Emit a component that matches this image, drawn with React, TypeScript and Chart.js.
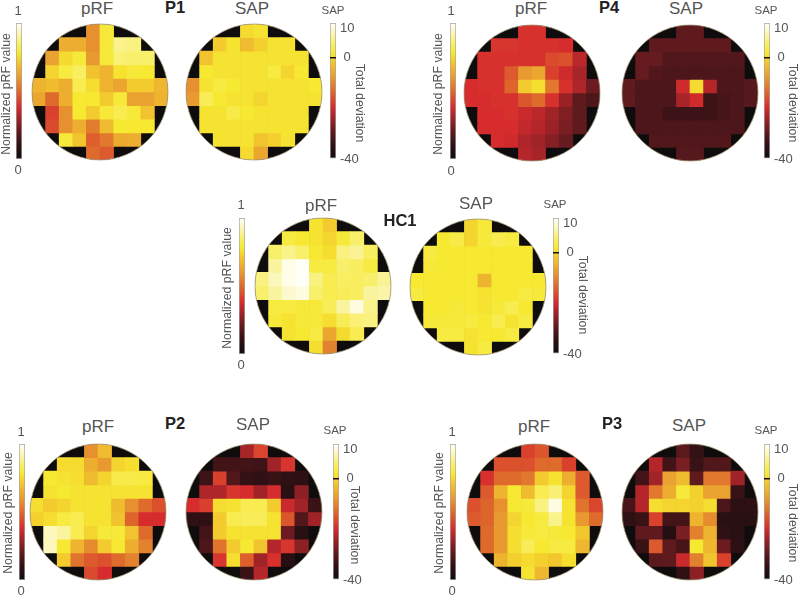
import React, { useEffect, useRef } from "react";
import { Chart, registerables } from "chart.js";

Chart.register(...registerables);

const _ = null;

const columns = ["0", "1", "2", "3", "4", "5", "6", "7", "8", "9"];

const p1Prf = [
  [_, _, _, _, .58, .79, _, _, _, _],
  [_, _, .65, .65, .58, .79, .88, .87, _, _],
  [_, .62, .75, .79, .6, .79, .86, .85, .85, _],
  [_, .74, .8, .84, .7, .66, .77, .79, .78, _],
  [.66, .68, .65, .82, .76, .66, .63, .72, .72, .67],
  [.63, .5, .65, .78, .78, .72, .79, .62, .62, .66],
  [_, .42, .58, .78, .72, .79, .82, .79, .7, _],
  [_, .44, .58, .65, .54, .68, .78, .78, .78, _],
  [_, _, .79, .7, .48, .53, .64, .65, _, _],
  [_, _, _, _, .5, .47, _, _, _, _],
];
const p1Sap = [
  [_, _, _, _, .75, .77, _, _, _, _],
  [_, _, .72, .77, .68, .73, .77, .77, _, _],
  [_, .7, .77, .77, .77, .77, .77, .77, .77, _],
  [_, .78, .77, .77, .77, .77, .8, .74, .78, _],
  [.58, .77, .8, .78, .77, .77, .77, .77, .77, .78],
  [.6, .83, .78, .77, .77, .74, .77, .77, .77, .77],
  [_, .77, .77, .81, .78, .77, .77, .77, .77, _],
  [_, .77, .77, .77, .77, .77, .77, .77, .77, _],
  [_, _, .77, .77, .77, .7, .73, .77, _, _],
  [_, _, _, _, .75, .63, _, _, _, _],
];
const p4Prf = [
  [_, _, _, _, .39, .39, _, _, _, _],
  [_, _, .4, .4, .39, .39, .39, .38, _, _],
  [_, .39, .39, .39, .39, .39, .44, .45, .34, _],
  [_, .39, .39, .47, .6, .63, .42, .37, .31, _],
  [.38, .39, .39, .49, .72, .76, .53, .39, .32, .22],
  [.38, .38, .39, .39, .46, .5, .39, .29, .2, .16],
  [_, .38, .38, .39, .36, .34, .3, .25, .2, _],
  [_, .38, .38, .38, .35, .33, .29, .24, .2, _],
  [_, _, .38, .37, .32, .3, .26, .21, _, _],
  [_, _, _, _, .33, .31, _, _, _, _],
];
const p4Sap = [
  [_, _, _, _, .2, .2, _, _, _, _],
  [_, _, .2, .2, .2, .2, .2, .2, _, _],
  [_, .21, .21, .17, .17, .17, .17, .17, .17, _],
  [_, .21, .17, .16, .16, .16, .16, .16, .16, _],
  [.2, .16, .16, .16, .37, .75, .33, .16, .16, .18],
  [.2, .16, .16, .16, .31, .37, .13, .15, .16, .18],
  [_, .16, .16, .13, .13, .13, .13, .15, .16, _],
  [_, .16, .16, .16, .16, .16, .16, .16, .16, _],
  [_, _, .17, .17, .17, .17, .17, .17, _, _],
  [_, _, _, _, .18, .18, _, _, _, _],
];
const hc1Prf = [
  [_, _, _, _, .77, .72, _, _, _, _],
  [_, _, .8, .78, .77, .74, .79, .85, _, _],
  [_, .85, .88, .85, .78, .76, .87, .89, .84, _],
  [_, .9, .98, 1, .8, .8, .85, .84, .8, _],
  [.87, .93, .98, 1, .87, .82, .84, .84, .85, .89],
  [.85, .9, .95, .97, .85, .82, .83, .84, .9, .91],
  [_, .8, .8, .79, .79, .83, .9, .97, .88, _],
  [_, .79, .77, .79, .79, .76, .83, .86, .87, _],
  [_, _, .77, .78, .8, .63, .75, .82, _, _],
  [_, _, _, _, .76, .55, _, _, _, _],
];
const hc1Sap = [
  [_, _, _, _, .74, .79, _, _, _, _],
  [_, _, .78, .81, .74, .79, .82, .8, _, _],
  [_, .8, .78, .78, .78, .78, .78, .78, .78, _],
  [_, .79, .78, .78, .78, .78, .78, .78, .78, _],
  [.78, .78, .78, .78, .78, .66, .78, .78, .78, .78],
  [.8, .78, .78, .78, .78, .77, .78, .78, .8, .79],
  [_, .78, .78, .79, .78, .77, .79, .82, .78, _],
  [_, .79, .79, .79, .8, .78, .82, .77, .8, _],
  [_, _, .8, .8, .77, .78, .78, .8, _, _],
  [_, _, _, _, .77, .8, _, _, _, _],
];
const p2Prf = [
  [_, _, _, _, .58, .68, _, _, _, _],
  [_, _, .75, .75, .65, .6, .74, .76, _, _],
  [_, .78, .77, .76, .68, .74, .81, .81, .8, _],
  [_, .77, .78, .77, .77, .77, .77, .77, .77, _],
  [.76, .72, .74, .77, .77, .77, .68, .58, .5, .45],
  [.73, .76, .8, .82, .77, .77, .7, .49, .38, .38],
  [_, .93, .9, .82, .74, .79, .79, .7, .5, _],
  [_, .93, .78, .66, .57, .72, .78, .65, .55, _],
  [_, _, .72, .52, .47, .45, .5, .55, _, _],
  [_, _, _, _, .44, .38, _, _, _, _],
];
const p2Sap = [
  [_, _, _, _, .31, .43, _, _, _, _],
  [_, _, .14, .14, .14, .13, .3, .4, _, _],
  [_, .13, .42, .17, .11, .1, .12, .1, .09, _],
  [_, .32, .32, .4, .38, .3, .38, .08, .27, _],
  [.38, .42, .76, .77, .82, .82, .72, .36, .3, .12],
  [.1, .1, .72, .82, .83, .83, .77, .46, .17, .3],
  [_, .14, .72, .77, .77, .77, .77, .22, .08, _],
  [_, .16, .52, .72, .78, .7, .33, .4, .27, _],
  [_, _, .4, .76, .48, .3, .39, .07, _, _],
  [_, _, _, _, .12, .33, _, _, _, _],
];
const p3Prf = [
  [_, _, _, _, .42, .46, _, _, _, _],
  [_, _, .45, .45, .45, .5, .5, .42, _, _],
  [_, .39, .5, .5, .53, .72, .77, .65, .47, _],
  [_, .47, .66, .78, .68, .82, .86, .74, .47, _],
  [.45, .49, .58, .78, .79, .87, .97, .77, .52, .43],
  [.47, .49, .6, .74, .78, .8, .88, .77, .6, .5],
  [_, .5, .6, .76, .79, .8, .79, .78, .71, _],
  [_, .5, .6, .76, .83, .78, .8, .8, .67, _],
  [_, _, .66, .73, .75, .73, .71, .76, _, _],
  [_, _, _, _, .77, .67, _, _, _, _],
];
const p3Sap = [
  [_, _, _, _, .19, .11, _, _, _, _],
  [_, _, .33, .14, .24, .12, .17, .17, _, _],
  [_, .14, .3, .62, .68, .2, .53, .53, .3, _],
  [_, .33, .53, .65, .79, .73, .62, .62, .12, _],
  [.15, .33, .76, .74, .74, .73, .76, .16, .09, .09],
  [.1, .12, .42, .14, .14, .66, .57, .08, .08, .08],
  [_, .2, .2, .07, .24, .55, .66, .1, .08, _],
  [_, .12, .47, .2, .15, .78, .67, .22, .09, _],
  [_, _, .19, .2, .36, .55, .7, .42, _, _],
  [_, _, _, _, .1, .27, _, _, _, _],
];

const colorStops: [number, number[]][] = [
  [0, [14, 14, 14]],
  [.1, [47, 16, 20]],
  [.2, [95, 26, 30]],
  [.3, [160, 35, 40]],
  [.38, [214, 44, 46]],
  [.5, [222, 106, 44]],
  [.6, [232, 154, 48]],
  [.72, [243, 203, 46]],
  [.78, [247, 232, 50]],
  [.84, [248, 238, 96]],
  [.92, [251, 246, 180]],
  [1, [255, 255, 250]],
];
const sapTickPositions = [0, .744, .963];
const sapTickLabels = ["-40", " 0", "10"];
const colorbarRange = [0, 1];

const FONT = "'Liberation Sans', Arial, sans-serif";
const INK = "#555";

function colorOf(v: number) {
  for (let i = 1; i < colorStops.length; i++) {
    const [b, cb] = colorStops[i];
    if (v <= b) {
      const [a, ca] = colorStops[i - 1];
      const t = (v - a) / (b - a);
      const c = ca.map((q, k) => Math.round(q + (cb[k] - q) * t));
      return `rgb(${c[0]},${c[1]},${c[2]})`;
    }
  }
  return "rgb(255,255,250)";
}

const circlePlugin = {
  id: "circleClip",
  beforeDatasetsDraw(chart: any) {
    const { left, right, top, bottom } = chart.chartArea;
    const { ctx } = chart;
    ctx.save();
    ctx.beginPath();
    ctx.arc((left + right) / 2, (top + bottom) / 2, (right - left) / 2, 0, Math.PI * 2);
    ctx.fillStyle = "#0e0c0c";
    ctx.fill();
    ctx.clip();
  },
  afterDatasetsDraw(chart: any) {
    const { left, right, top, bottom } = chart.chartArea;
    const { ctx } = chart;
    ctx.restore();
    ctx.beginPath();
    ctx.arc((left + right) / 2, (top + bottom) / 2, (right - left) / 2, 0, Math.PI * 2);
    ctx.strokeStyle = "rgba(170,160,130,0.8)";
    ctx.lineWidth = 1;
    ctx.stroke();
  },
};

function Heatmap({ cx, cy, grid }: { cx: number; cy: number; grid: (number | null)[][] }) {
  const ref = useRef<HTMLCanvasElement>(null);
  const R = 68;
  const pad = 2;
  useEffect(() => {
    const chart = new Chart(ref.current!, {
      type: "bar",
      data: {
        labels: columns,
        datasets: grid.map((row) => ({
          data: row.map(() => 1),
          backgroundColor: row.map((v) => (v === null ? "rgba(0,0,0,0)" : colorOf(v))),
          borderWidth: 0,
          barPercentage: 1,
          categoryPercentage: 1,
        })),
      },
      options: {
        responsive: false,
        animation: false,
        layout: { padding: pad },
        plugins: { legend: { display: false }, tooltip: { enabled: false } },
        scales: {
          x: { display: false, stacked: true },
          y: { display: false, stacked: true, min: 0, max: grid.length, reverse: true },
        },
      },
      plugins: [circlePlugin],
    } as any);
    return () => chart.destroy();
  }, []);
  return (
    <canvas
      ref={ref}
      width={2 * R + 2 * pad}
      height={2 * R + 2 * pad}
      style={{ position: "absolute", left: cx - R - pad, top: cy - R - pad }}
    />
  );
}

function Colorbar({ x, top, bottom, ticks }: { x: number; top: number; bottom: number; ticks: boolean }) {
  const ref = useRef<HTMLCanvasElement>(null);
  const barW = 6;
  const axisW = ticks ? 32 : 0;
  const padT = 8;
  const padB = 10;
  useEffect(() => {
    const chart = new Chart(ref.current!, {
      type: "bar",
      data: {
        labels: ["colorbar"],
        datasets: [
          {
            data: [colorbarRange],
            backgroundColor: (c: any) => {
              const area = c.chart.chartArea;
              if (!area) return "#888";
              const g = c.chart.ctx.createLinearGradient(0, area.bottom, 0, area.top);
              colorStops.forEach(([s, col]) => g.addColorStop(s, `rgb(${col[0]},${col[1]},${col[2]})`));
              return g;
            },
            borderColor: "#a6a6a6",
            borderWidth: 1,
            borderSkipped: false,
            barPercentage: 1,
            categoryPercentage: 1,
          },
        ],
      },
      options: {
        responsive: false,
        animation: false,
        layout: { padding: { top: padT, bottom: padB, left: 0, right: 0 } },
        plugins: { legend: { display: false }, tooltip: { enabled: false } },
        scales: {
          x: { display: false },
          y: {
            display: ticks,
            position: "right",
            min: colorbarRange[0],
            max: colorbarRange[1],
            border: { display: false },
            grid: {
              z: 1,
              drawTicks: false,
              lineWidth: 1.5,
              color: (c: any) => (c.tick && c.tick.value === sapTickPositions[1] ? "#141010" : "rgba(0,0,0,0)"),
            },
            ticks: {
              padding: 4,
              autoSkip: false,
              color: INK,
              font: { family: FONT, size: 13 },
              callback: (v: number) => {
                const i = sapTickPositions.indexOf(v);
                return i >= 0 ? sapTickLabels[i] : "";
              },
            },
            afterBuildTicks: (s: any) => {
              s.ticks = sapTickPositions.map((value) => ({ value }));
            },
            afterFit: (s: any) => {
              s.width = axisW;
              s.paddingTop = 0;
              s.paddingBottom = 0;
            },
          },
        },
      },
    } as any);
    return () => chart.destroy();
  }, []);
  return (
    <canvas
      ref={ref}
      width={barW + axisW}
      height={bottom - top + padT + padB}
      style={{ position: "absolute", left: x, top: top - padT }}
    />
  );
}

function Label({
  x, y, text, size, rot = 0, bold = false, color = INK,
}: { x: number; y: number; text: string; size: number; rot?: number; bold?: boolean; color?: string }) {
  return (
    <div
      style={{
        position: "absolute",
        left: x,
        top: y,
        transform: `translate(-50%,-50%) rotate(${rot}deg)`,
        font: `${bold ? "bold " : ""}${size}px ${FONT}`,
        lineHeight: 1,
        color,
        whiteSpace: "nowrap",
      }}
    >
      {text}
    </div>
  );
}

const groups = [
  { name: "P1", prf: p1Prf, sap: p1Sap, prfC: [100, 91.5], sapC: [253.5, 91.5], prfBar: 16, sapBar: 330, barT: 23, barB: 159,
    one: [18, 10], zero: [18, 169], norm: [6, 94], prfT: [97, 8], nameP: [175, 7], sapT: [252, 8], small: [333, 11], dev: [360, 103] },
  { name: "P4", prf: p4Prf, sap: p4Sap, prfC: [532, 92.5], sapC: [689.5, 92.5], prfBar: 449.5, sapBar: 763.5, barT: 23, barB: 159,
    one: [451, 10], zero: [451, 170], norm: [438, 94], prfT: [531, 8], nameP: [609, 7], sapT: [686, 8], small: [766, 11], dev: [793, 103] },
  { name: "HC1", prf: hc1Prf, sap: hc1Sap, prfC: [322.5, 286], sapC: [478, 286.5], prfBar: 239, sapBar: 553, barT: 218, barB: 354,
    one: [241, 204], zero: [241, 364], norm: [227, 288], prfT: [321, 205], nameP: [400, 220], sapT: [476, 203], small: [555, 205], dev: [583, 295] },
  { name: "P2", prf: p2Prf, sap: p2Sap, prfC: [98, 511.5], sapC: [253.5, 511.5], prfBar: 19, sapBar: 333, barT: 444, barB: 580,
    one: [21, 431], zero: [21, 590], norm: [8, 513], prfT: [98, 426], nameP: [175, 423], sapT: [253, 424], small: [335, 431], dev: [355, 525] },
  { name: "P3", prf: p3Prf, sap: p3Sap, prfC: [535, 511.5], sapC: [690, 511.5], prfBar: 449.5, sapBar: 763.5, barT: 444, barB: 580,
    one: [452, 431], zero: [452, 590], norm: [439, 513], prfT: [534, 426], nameP: [612, 423], sapT: [689, 425], small: [766, 431], dev: [793, 523] },
];

export default function App() {
  return (
    <div style={{ position: "absolute", left: 0, top: 0, width: 800, height: 595, background: "#fff", overflow: "hidden" }}>
      {groups.map((g) => (
        <React.Fragment key={g.name}>
          <Heatmap cx={g.prfC[0]} cy={g.prfC[1]} grid={g.prf} />
          <Heatmap cx={g.sapC[0]} cy={g.sapC[1]} grid={g.sap} />
          <Colorbar x={g.prfBar} top={g.barT} bottom={g.barB} ticks={false} />
          <Colorbar x={g.sapBar} top={g.barT} bottom={g.barB} ticks={true} />
          <Label x={g.one[0]} y={g.one[1]} text="1" size={13} />
          <Label x={g.zero[0]} y={g.zero[1]} text="0" size={13} />
          <Label x={g.norm[0]} y={g.norm[1]} text="Normalized pRF value" size={12.3} rot={-90} />
          <Label x={g.prfT[0]} y={g.prfT[1]} text="pRF" size={17} />
          <Label x={g.sapT[0]} y={g.sapT[1]} text="SAP" size={17} />
          <Label x={g.nameP[0]} y={g.nameP[1]} text={g.name} size={16.5} bold color="#222" />
          <Label x={g.small[0]} y={g.small[1]} text="SAP" size={11.5} />
          <Label x={g.dev[0]} y={g.dev[1]} text="Total deviation" size={12.3} rot={90} />
        </React.Fragment>
      ))}
    </div>
  );
}
